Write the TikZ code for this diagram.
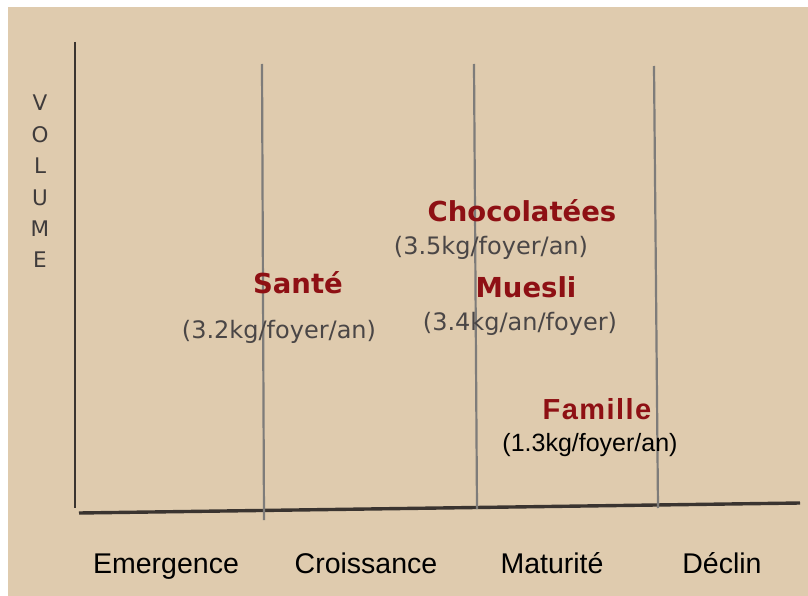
\documentclass[tikz,border=0pt]{standalone}
\usepackage{fontspec}
\setmainfont{Liberation Sans}
\newfontfamily\tahfont{DejaVu Sans}
\newfontfamily\volfont{DejaVu Sans}
\newfontfamily\famfont[LetterSpace=5]{Liberation Sans}
\newfontfamily\arialfont{Liberation Sans}
\definecolor{bgtan}{HTML}{DFCBAE}
\definecolor{darkred}{HTML}{8E1014}
\definecolor{txtgray}{HTML}{4A4646}
\definecolor{axisdark}{HTML}{3A3430}
\definecolor{linegray}{HTML}{7E7C7A}
\tikzset{
  redlabel/.style={anchor=base, inner sep=0pt, text=darkred, font=\tahfont\bfseries\fontsize{27.5}{30}\selectfont},
  graylabel/.style={anchor=base, inner sep=0pt, text=txtgray, font=\tahfont\fontsize{24}{26}\selectfont},
  phase/.style={anchor=base, inner sep=0pt, text=black, font=\fontsize{28.5}{32}\selectfont},
  axisline/.style={draw=axisdark, line width=3pt},
  divline/.style={draw=linegray, line width=2.2pt}
}
\begin{document}
\begin{tikzpicture}[x=1pt, y=-1pt]
\useasboundingbox (0,0) rectangle (808,596);
\fill[white] (0,0) rectangle (808,596);
\fill[bgtan] (8,7) rectangle (808,596);
% axes
\draw[axisline, line width=2.6pt] (75,42) -- (75,508);
\draw[axisline, line width=3.4pt] (79,513) -- (800,503);
% phase separators
\draw[divline] (262,64) -- (264,520);
\draw[divline] (474,64) -- (477,509);
\draw[divline] (654,66) -- (658,508);
% y-axis label
\node[anchor=north, inner sep=0pt, align=center, text=txtgray!85!black,
      font=\volfont\fontsize{21.5}{31.4}\selectfont] (vol) at (40,95) {V\\O\\L\\U\\M\\E};
% product labels
\node[redlabel] (sante) at (298,293) {Santé};
\node[graylabel] (santeq) at (279,338) {(3.2kg/foyer/an)};
\node[redlabel] (choco) at (522,222) {Chocolatées};
\node[graylabel] (chocoq) at (491,254) {(3.5kg/foyer/an)};
\node[redlabel] (muesli) at (526,297) {Muesli};
\node[graylabel] (muesliq) at (520,330) {(3.4kg/an/foyer)};
\node[anchor=base, inner sep=0pt, text=darkred, font=\famfont\bfseries\fontsize{29}{32}\selectfont] (famille) at (597,419) {Famille};
\node[anchor=base, inner sep=0pt, text=black, font=\arialfont\fontsize{25}{28}\selectfont] (familleq) at (590,451) {(1.3kg/foyer/an)};
% phases
\node[phase] (emerg) at (166,573) {Emergence};
\node[phase] (crois) at (366,573) {Croissance};
\node[phase] (matur) at (552,573) {Maturité};
\node[phase] (declin) at (722,573) {Déclin};
\end{tikzpicture}
\end{document}
